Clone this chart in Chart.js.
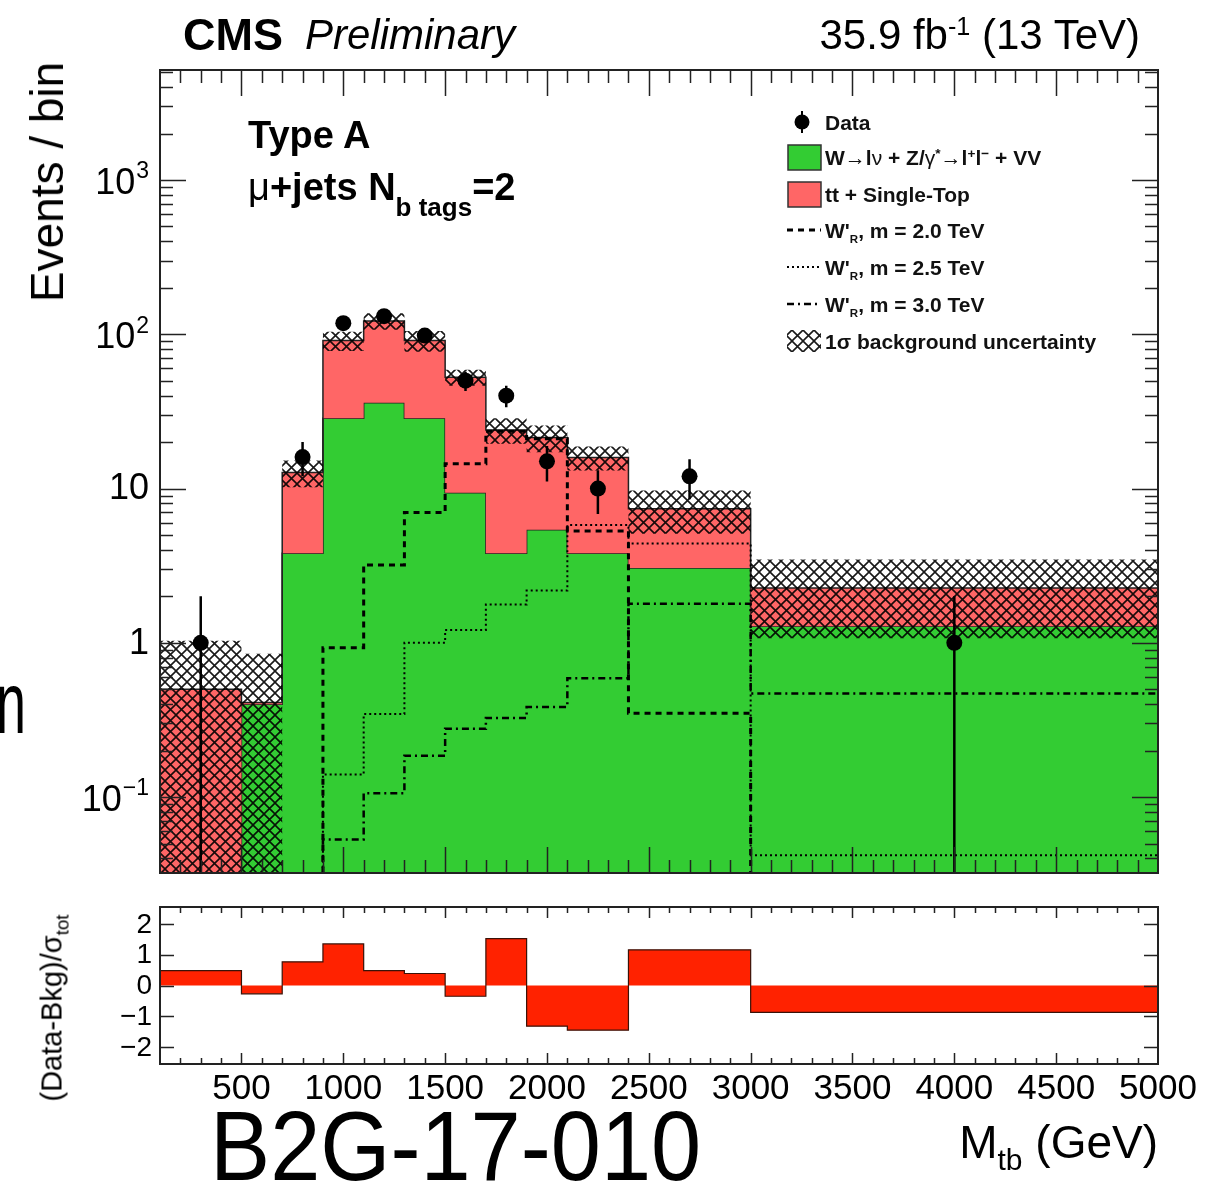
<!DOCTYPE html>
<html lang="en">
<head>
<meta charset="UTF-8">
<title>M_tb, Type A, mu+jets, 2 b tags</title>
<script src="https://cdn.jsdelivr.net/npm/chart.js@4"></script>
<style>
  body { margin: 0; background: #fff; width: 1217px; height: 1187px; position: relative; overflow: hidden;
         font-family: "Liberation Sans", Arial, Helvetica, sans-serif; color: #000; }
  canvas { position: absolute; left: 0; }
  #main { top: 0; }
  #ratio { top: 890px; }
  .t { position: absolute; white-space: nowrap; line-height: 1; }
  .rot { transform: translate(-50%, -50%) rotate(-90deg); }
  .sup { position: relative; top: -0.55em; font-size: 60%; }
  .sub { position: relative; top: 0.35em; font-size: 65%; }
  .lg { position: absolute; left: 825px; font-size: 21px; font-weight: bold; white-space: nowrap; line-height: 1; color: #111; }
  .lg .sup { top: -0.5em; font-size: 65%; }
  .lg .sub { top: 0.4em; font-size: 55%; }
</style>
</head>
<body>
<canvas id="main" width="1217" height="890"></canvas>
<canvas id="ratio" width="1217" height="297"></canvas>

<div class="t" style="left:183px;top:12px;font-size:45px;font-weight:bold;">CMS</div>
<div class="t" style="left:305px;top:14px;font-size:42px;font-style:italic;">Preliminary</div>
<div class="t" style="right:77px;top:14px;font-size:42px;">35.9 fb<span class="sup">-1</span> (13 TeV)</div>

<div class="t rot" style="left:47px;top:182px;font-size:46px;">Events / bin</div>
<div class="t rot" style="left:52px;top:1008px;font-size:29px;">(Data-Bkg)/σ<span class="sub">tot</span></div>

<div class="t" style="left:248px;top:116px;font-size:38px;font-weight:bold;">Type A</div>
<div class="t" style="left:248px;top:168px;font-size:38px;font-weight:bold;"><span style="font-weight:normal">μ</span>+jets N<span style="position:relative;top:16px;font-size:26px;">b tags</span>=2</div>

<div class="lg" style="top:112px;">Data</div>
<div class="lg" style="top:147px;">W→l<span style="font-weight:normal">ν</span> + Z/<span style="font-weight:normal">γ</span><span class="sup">*</span>→l<span class="sup">+</span>l<span class="sup">−</span> + VV</div>
<div class="lg" style="top:184px;">tt + Single-Top</div>
<div class="lg" style="top:220px;">W'<span class="sub">R</span>, m = 2.0 TeV</div>
<div class="lg" style="top:257px;">W'<span class="sub">R</span>, m = 2.5 TeV</div>
<div class="lg" style="top:294px;">W'<span class="sub">R</span>, m = 3.0 TeV</div>
<div class="lg" style="top:331px;">1σ background uncertainty</div>

<div class="t" style="right:59px;top:1119px;font-size:46px;">M<span style="position:relative;top:12px;font-size:30px;">tb</span> (GeV)</div>
<div class="t" style="left:210px;top:1097px;font-size:98px;transform:scaleX(0.92);transform-origin:left top;">B2G-17-010</div>
<div class="t" style="left:-4px;top:659px;font-size:87px;transform:scaleX(0.62);transform-origin:left top;">n</div>

<script>
// bin edges in M_tb (GeV)
const binEdges = [100, 500, 700, 900, 1100, 1300, 1500, 1700, 1900, 2100, 2400, 3000, 5000];

// backgrounds per bin
const ewkBkg = [0, 0.40, 3.8, 28.5, 36, 28.5, 9.4, 3.8, 5.4, 3.8, 3.05, 1.28];    // W->lv + Z/g*->ll + VV
const topBkg = [0.5, 0.01, 8.9, 62.5, 86, 62.5, 43.2, 20.2, 16, 12.1, 4.35, 0.99]; // tt + single top
const bkgUnc = [0.53, 0.44, 2.5, 13, 15, 14, 6.3, 4.5, 4.2, 2.8, 2.3, 1.2];

// observed events (null = no entry)
const dataCounts = [1, null, 16, 118, 131, 98, 50, 40, 15, 10, 12, 1];

// W'_R signal templates
const wprime20 = [0, 0, 0, 0.93, 3.2, 7.0, 14.5, 23.5, 21, 5.3, 0.35, 0];
const wprime25 = [0, 0, 0, 0.14, 0.345, 1.0, 1.21, 1.77, 2.18, 5.8, 4.4, 0.042];
const wprime30 = [0, 0, 0, 0.053, 0.106, 0.185, 0.277, 0.326, 0.384, 0.59, 1.79, 0.47];

// (Data-Bkg)/sigma_tot
const pullValues = [0.48, -0.27, 0.77, 1.35, 0.48, 0.39, -0.35, 1.52, -1.32, -1.45, 1.16, -0.87];

// axis ticks
const xTickLabels = [500, 1000, 1500, 2000, 2500, 3000, 3500, 4000, 4500, 5000];
const yDecades = [0.1, 1, 10, 100, 1000];
const yDecadeLabels = [['10', '\u22121'], ['1', ''], ['10', ''], ['10', '2'], ['10', '3']];
const pullTicks = [-2, -1, 0, 1, 2];
const pullTickLabels = ['\u22122', '\u22121', '0', '1', '2'];

const GREEN = '#33cc33';
const LIGHT_RED = '#ff6666';
const PULL_RED = '#ff2200';
const FLOOR = 1e-4;   // empty bins sit below the log axis

// histogram as a stepped line: one point per left edge plus the closing edge
function steps(vals, floor) {
  return binEdges.map((e, i) => {
    const v = vals[Math.min(i, vals.length - 1)];
    return { x: e, y: floor === undefined ? v : Math.max(v, floor) };
  });
}

const totalBkg = ewkBkg.map((v, i) => v + topBkg[i]);
const bandHigh = totalBkg.map((v, i) => v + bkgUnc[i]);
const bandLow = totalBkg.map((v, i) => v - bkgUnc[i]);

const dataPoints = [];
const dataErrors = [];
dataCounts.forEach((n, i) => {
  if (n === null) return;
  const xc = (binEdges[i] + binEdges[i + 1]) / 2;
  const e = Math.sqrt(n);
  dataPoints.push({ x: xc, y: n });
  dataErrors.push({ x: xc, y: Math.max(n - e, FLOOR) }, { x: xc, y: n + e }, { x: xc, y: null });
});

function hatchPattern(ctx) {
  const tile = document.createElement('canvas');
  tile.width = 11; tile.height = 11;
  const t = tile.getContext('2d');
  t.strokeStyle = 'rgba(0,0,0,0.9)';
  t.lineWidth = 1.6;
  t.beginPath();
  t.moveTo(-1, -1); t.lineTo(12, 12);
  t.moveTo(12, -1); t.lineTo(-1, 12);
  t.stroke();
  return ctx.createPattern(tile, 'repeat');
}

const mainCtx = document.getElementById('main').getContext('2d');
const hatch = hatchPattern(mainCtx);

// frame + inward ticks on the x axis, shared by both panels
function drawFrameAndXTicks(ctx, a, x, major, minor) {
  ctx.strokeStyle = '#222';
  ctx.lineWidth = 1.5;
  ctx.beginPath();
  for (let v = 200; v < 5000; v += 100) {
    const px = Math.round(x.getPixelForValue(v)) + 0.5;
    const len = v % 500 === 0 ? major : minor;
    ctx.moveTo(px, a.bottom); ctx.lineTo(px, a.bottom - len);
    ctx.moveTo(px, a.top); ctx.lineTo(px, a.top + len);
  }
  ctx.stroke();
  ctx.lineWidth = 2;
  ctx.strokeRect(a.left, a.top, a.right - a.left, a.bottom - a.top);
}

const mainDecor = {
  id: 'mainDecor',
  afterDatasetsDraw(chart) {
    const { ctx, chartArea: a, scales: { x, y } } = chart;
    ctx.save();
    drawFrameAndXTicks(ctx, a, x, 26, 13);

    // log y ticks, left and right
    ctx.lineWidth = 1.5;
    ctx.beginPath();
    for (let d = 0.01; d < 1e4; d *= 10) {
      for (let k = 1; k <= 9; k++) {
        const v = d * k;
        if (v < y.min || v > y.max) continue;
        const py = Math.round(y.getPixelForValue(v)) + 0.5;
        const len = k === 1 ? 26 : 13;
        ctx.moveTo(a.left, py); ctx.lineTo(a.left + len, py);
        ctx.moveTo(a.right, py); ctx.lineTo(a.right - len, py);
      }
    }
    ctx.stroke();

    // y labels: mantissa with raised exponent
    ctx.fillStyle = '#000';
    ctx.textBaseline = 'middle';
    ctx.textAlign = 'left';
    yDecades.forEach((v, i) => {
      const [base, exp] = yDecadeLabels[i];
      const py = y.getPixelForValue(v);
      ctx.font = '36px "Liberation Sans", Arial, sans-serif';
      const wb = ctx.measureText(base).width;
      ctx.font = '23px "Liberation Sans", Arial, sans-serif';
      const we = exp ? ctx.measureText(exp).width + 1 : 0;
      const right = 149;
      ctx.font = '36px "Liberation Sans", Arial, sans-serif';
      ctx.fillText(base, right - we - wb, py + (exp ? 4 : 1));
      if (exp) {
        ctx.font = '23px "Liberation Sans", Arial, sans-serif';
        ctx.fillText(exp, right - we + 1, py - 8);
      }
    });

    // legend keys
    ctx.fillStyle = '#000';
    ctx.strokeStyle = '#000';
    ctx.beginPath(); ctx.arc(802, 122, 7.5, 0, Math.PI * 2); ctx.fill();
    ctx.lineWidth = 2;
    ctx.beginPath(); ctx.moveTo(802, 111); ctx.lineTo(802, 133); ctx.stroke();

    ctx.lineWidth = 1.5;
    ctx.strokeStyle = '#333';
    ctx.fillStyle = GREEN;
    ctx.fillRect(788, 145, 33, 25); ctx.strokeRect(788, 145, 33, 25);
    ctx.fillStyle = LIGHT_RED;
    ctx.fillRect(788, 182, 33, 25); ctx.strokeRect(788, 182, 33, 25);

    ctx.strokeStyle = '#000';
    const keyLine = (yy, dash, w) => {
      ctx.setLineDash(dash); ctx.lineWidth = w;
      ctx.beginPath(); ctx.moveTo(787, yy); ctx.lineTo(821, yy); ctx.stroke();
    };
    keyLine(230, [6, 5], 3);
    keyLine(267, [2, 3], 2);
    keyLine(304, [7, 4, 2, 4], 2.5);
    ctx.setLineDash([]);

    ctx.fillStyle = hatch;
    ctx.fillRect(787, 330, 34, 22);
    ctx.restore();
  }
};

const ratioDecor = {
  id: 'ratioDecor',
  afterDatasetsDraw(chart) {
    const { ctx, chartArea: a, scales: { x, y } } = chart;
    ctx.save();
    drawFrameAndXTicks(ctx, a, x, 11, 6);
    ctx.lineWidth = 1.5;
    ctx.beginPath();
    pullTicks.forEach(v => {
      const py = Math.round(y.getPixelForValue(v)) + 0.5;
      ctx.moveTo(a.left, py); ctx.lineTo(a.left + 14, py);
      ctx.moveTo(a.right, py); ctx.lineTo(a.right - 14, py);
    });
    ctx.stroke();

    ctx.fillStyle = '#000';
    ctx.textBaseline = 'middle';
    ctx.textAlign = 'right';
    ctx.font = '28px "Liberation Sans", Arial, sans-serif';
    pullTicks.forEach((v, i) => ctx.fillText(pullTickLabels[i], 152, y.getPixelForValue(v) + 1));

    ctx.textAlign = 'center';
    ctx.textBaseline = 'alphabetic';
    ctx.font = '35px "Liberation Sans", Arial, sans-serif';
    xTickLabels.forEach(v => ctx.fillText(String(v), x.getPixelForValue(v), 209));
    ctx.restore();
  }
};

const stepLine = {
  type: 'line', stepped: true, pointRadius: 0, tension: 0, clip: 0
};

new Chart(mainCtx, {
  type: 'line',
  data: {
    datasets: [
      { ...stepLine, label: 'W+Z+VV', data: steps(ewkBkg, FLOOR), fill: 'start',
        backgroundColor: GREEN, borderColor: '#222', borderWidth: 1.5, order: 6 },
      { ...stepLine, label: 'top', data: steps(totalBkg, FLOOR), fill: { target: 0 },
        backgroundColor: LIGHT_RED, borderColor: '#222', borderWidth: 1.5, order: 5 },
      { ...stepLine, label: 'unc low', data: steps(bandLow, FLOOR), fill: false,
        borderWidth: 0, borderColor: 'rgba(0,0,0,0)', order: 4 },
      { ...stepLine, label: 'unc high', data: steps(bandHigh, FLOOR), fill: { target: 2 },
        backgroundColor: hatch, borderWidth: 0, borderColor: 'rgba(0,0,0,0)', order: 4 },
      { ...stepLine, label: "W'R 2.0", data: steps(wprime20, FLOOR), fill: false,
        borderColor: '#000', borderWidth: 3, borderDash: [6, 5], order: 2 },
      { ...stepLine, label: "W'R 2.5", data: steps(wprime25, FLOOR), fill: false,
        borderColor: '#000', borderWidth: 2, borderDash: [2, 3], order: 2 },
      { ...stepLine, label: "W'R 3.0", data: steps(wprime30, FLOOR), fill: false,
        borderColor: '#000', borderWidth: 2.5, borderDash: [7, 4, 2, 4], order: 2 },
      { type: 'line', label: 'data err', data: dataErrors, pointRadius: 0, fill: false,
        borderColor: '#000', borderWidth: 2.5, spanGaps: false, clip: 0, order: 1 },
      { type: 'line', label: 'Data', data: dataPoints, showLine: false, pointRadius: 8,
        pointStyle: 'circle', pointBackgroundColor: '#000', pointBorderWidth: 0, clip: 0, order: 0 }
    ]
  },
  options: {
    responsive: false,
    animation: false,
    devicePixelRatio: 1,
    events: [],
    layout: { padding: { left: 160, right: 59, top: 70, bottom: 17 }, autoPadding: false },
    scales: {
      x: { type: 'linear', min: 100, max: 5000, display: false },
      y: { type: 'logarithmic', min: 0.0322, max: 5164, display: false }
    },
    plugins: { legend: { display: false }, tooltip: { enabled: false } }
  },
  plugins: [mainDecor]
});

new Chart(document.getElementById('ratio').getContext('2d'), {
  type: 'line',
  data: {
    datasets: [
      { ...stepLine, label: 'pull', data: steps(pullValues), fill: { value: 0 },
        backgroundColor: PULL_RED, borderColor: '#3a1208', borderWidth: 1.2 }
    ]
  },
  options: {
    responsive: false,
    animation: false,
    devicePixelRatio: 1,
    events: [],
    layout: { padding: { left: 160, right: 59, top: 17, bottom: 123 }, autoPadding: false },
    scales: {
      x: { type: 'linear', min: 100, max: 5000, display: false },
      y: { type: 'linear', min: -2.55, max: 2.55, display: false }
    },
    plugins: { legend: { display: false }, tooltip: { enabled: false } }
  },
  plugins: [ratioDecor]
});
</script>
</body>
</html>
